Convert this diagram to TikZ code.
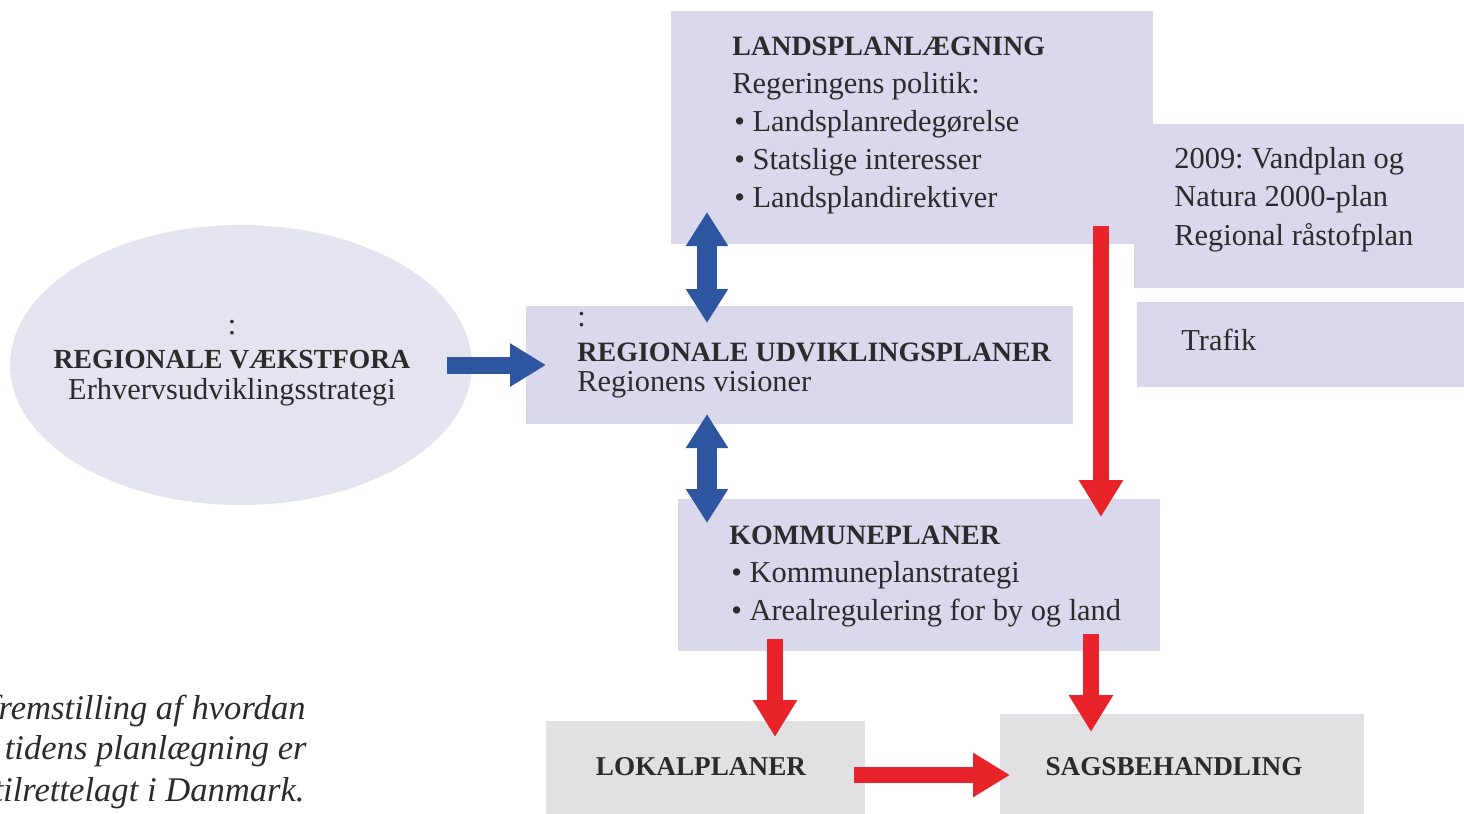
\documentclass[tikz,border=0pt]{standalone}
\usepackage{fontspec}
\setmainfont{Liberation Serif}
\usetikzlibrary{fit,arrows.meta,shapes.geometric}
\definecolor{lav}{HTML}{D9D8EC}
\definecolor{ellc}{HTML}{E4E4F1}
\definecolor{greyc}{HTML}{E1E1E3}
\definecolor{ablue}{HTML}{2E55A0}
\definecolor{ared}{HTML}{E8232A}
\definecolor{txtc}{HTML}{2B2B2B}
\tikzset{
  lavbox/.style={fill=lav, draw=none, inner sep=0pt},
  greybox/.style={fill=greyc, draw=none, inner sep=0pt},
  tx/.style={anchor=base west, inner sep=0pt, text=txtc, font=\fontsize{15.2}{19}\selectfont\frenchspacing},
  txc/.style={anchor=base, inner sep=0pt, text=txtc, font=\fontsize{15.2}{19}\selectfont\frenchspacing},
  hd/.style={tx, font=\fontsize{14}{19}\selectfont\bfseries},
  hdc/.style={txc, font=\fontsize{13.6}{19}\selectfont\bfseries},
  captxt/.style={anchor=base east, inner sep=0pt, text=txtc, font=\fontsize{17.3}{20}\selectfont\itshape},
  barrow/.style={draw=ablue, line width=10pt, arrows={Triangle[width=20pt,length=17pt]-Triangle[width=20pt,length=17pt]}},
  rarrow/.style={draw=ared, line width=8pt, arrows={-Triangle[width=21pt,length=18.5pt]}},
}
\begin{document}
\begin{tikzpicture}[x=0.5pt,y=-0.5pt]
\useasboundingbox (0,0) rectangle (1464,814);
\clip (0,0) rectangle (1464,814);
% boxes
\node[lavbox, fit={(1134,124)(1464,288)}] (plans) {};
\node[lavbox, fit={(671,11)(1153,244)}] (land) {};
\node[lavbox, fit={(1137,302)(1464,387)}] (trafik) {};
\node[lavbox, fit={(526,306)(1073,424)}] (reg) {};
\node[fill=ellc, ellipse, draw=none, minimum width=231pt, minimum height=140pt, inner sep=0pt] (vaekst) at (241,365) {};
\node[lavbox, fit={(678,499)(1160,651)}] (komm) {};
\node[greybox, fit={(546,721)(865,830)}] (lokal) {};
\node[greybox, fit={(1000,714)(1364,830)}] (sags) {};
% texts: landsplanlaegning
\node[hd] at (732,55) {LANDSPLANLÆGNING};
\node[tx] at (732,93) {Regeringens politik:};
\node[tx] at (734,131) {\textbullet\ Landsplanredegørelse};
\node[tx] at (734,169) {\textbullet\ Statslige interesser};
\node[tx] at (734,207) {\textbullet\ Landsplandirektiver};
% plans
\node[tx] at (1174,168) {2009: Vandplan og};
\node[tx] at (1174,206) {Natura 2000-plan};
\node[tx] at (1174,245) {Regional råstofplan};
\node[tx] at (1181,350) {Trafik};
% regional
\node[tx] at (577,326) {:};
\node[hd] at (577,361) {REGIONALE UDVIKLINGSPLANER};
\node[tx] at (577,391) {Regionens visioner};
% ellipse
\node[txc] at (232,334) {:};
\node[hdc, font=\fontsize{13.8}{19}\selectfont\bfseries] at (232,368) {REGIONALE VÆKSTFORA};
\node[txc] at (232,399) {Erhvervsudviklingsstrategi};
% kommune
\node[hd] at (729,544) {KOMMUNEPLANER};
\node[tx] at (731,582) {\textbullet\ Kommuneplanstrategi};
\node[tx] at (731,620) {\textbullet\ Arealregulering for by og land};
% bottom
\node[hdc] at (701,775) {LOKALPLANER};
\node[hdc] at (1174,775) {SAGSBEHANDLING};
% caption
\node[captxt] at (306,719) {fremstilling af hvordan};
\node[captxt] at (307,759) {tidens planlægning er};
\node[captxt] at (305,801) {tilrettelagt i Danmark.};
% arrow coordinates
\coordinate (b1a) at (707,212);
\coordinate (b1b) at (707,323);
\coordinate (b2a) at (707,414);
\coordinate (b2b) at (707,523);
\coordinate (b3a) at (447,365);
\coordinate (b3b) at (546,365);
\coordinate (r1a) at (1101,226);
\coordinate (r1b) at (1101,517);
\coordinate (r2a) at (775,639);
\coordinate (r2b) at (775,737);
\coordinate (r3a) at (1091,634);
\coordinate (r3b) at (1091,732);
\coordinate (r4a) at (854,775);
\coordinate (r4b) at (1010,775);
% arrows
\draw[barrow] (b1a) -- (b1b);
\draw[barrow] (b2a) -- (b2b);
\draw[draw=ablue, line width=8.5pt, arrows={-Triangle[width=20.5pt,length=18pt]}] (b3a) -- (b3b);
\draw[rarrow] (r1a) -- (r1b);
\draw[rarrow] (r2a) -- (r2b);
\draw[rarrow] (r3a) -- (r3b);
\draw[rarrow] (r4a) -- (r4b);
\end{tikzpicture}
\end{document}
